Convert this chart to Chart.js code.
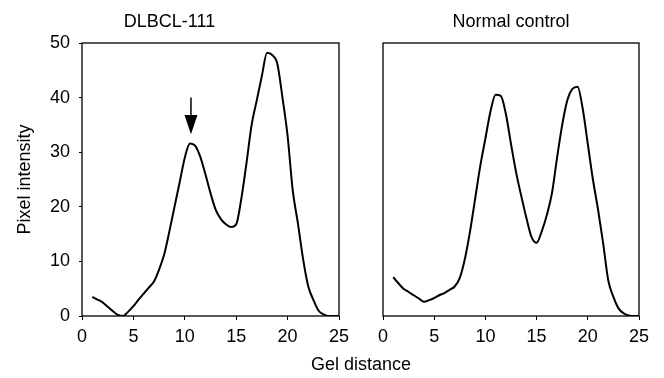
<!DOCTYPE html>
<html><head><meta charset="utf-8">
<script src="https://cdn.jsdelivr.net/npm/chart.js@4.4.0/dist/chart.umd.min.js"></script>
<style>
html,body{margin:0;padding:0;background:#fff;}
body{width:664px;height:378px;position:relative;overflow:hidden;font-family:"Liberation Sans",Arial,sans-serif;}
#w1{position:absolute;left:0;top:0;width:360px;height:378px;}
#w2{position:absolute;left:340px;top:0;width:324px;height:378px;}
#xt{position:absolute;left:261px;width:200px;top:353px;text-align:center;font-size:18px;color:#000;line-height:22px;}
</style></head><body>
<div id="w1"><canvas id="c1"></canvas></div>
<div id="w2"><canvas id="c2"></canvas></div>
<div id="xt">Gel distance</div>
<script>
const panelTitles = ["DLBCL-111", "Normal control"];
const gelDistance = [1,1.5,2,2.5,3,3.5,4,4.5,5,5.5,6,6.5,7,7.5,8,8.5,9,9.5,10,10.5,11,11.5,12,12.5,13,13.5,14,14.5,15,15.5,16,16.5,17,17.5,18,18.5,19,19.5,20,20.5,21,21.5,22,22.5,23,23.5,24,24.5,25];
const dlbcl111 = [3.5,3.0,2.5,1.7,0.9,0.2,0,0.8,1.8,3.0,4.1,5.2,6.3,8.5,11.3,15.5,20,24.5,29,31.6,31.2,29.2,26,22.5,19.5,17.8,16.8,16.3,16.8,21.5,28,35,39.5,44,48.2,47.8,46.2,40,33,23,17,10.5,5.5,3,1,0.3,0,0,0];
const normalControl = [7.1,6.0,5.0,4.4,3.8,3.2,2.6,2.9,3.3,3.8,4.2,4.8,5.4,7.0,10.5,15.5,21.5,27.5,32.5,37.5,40.5,40.3,37,31.5,26.3,22,18,14.5,13.4,15.5,18.5,22.5,29,35,39.5,41.6,42,38,31.5,25,19.5,13.3,6.5,3.5,1.4,0.5,0.1,0,0];
const xTickLabels = [0,5,10,15,20,25];
const yTickLabels = [0,10,20,30,40,50];
const arrowMark = {x:10.6, from:40, headStart:36.8, tip:33.3};

const FONT = {family:"'Liberation Sans', Arial, sans-serif", size:18, weight:'normal'};

const framePlugin = {
  id:'frame',
  afterDatasetsDraw(chart){
    const {ctx, chartArea:a} = chart;
    ctx.save();
    ctx.strokeStyle='#000'; ctx.lineWidth=1.3;
    ctx.strokeRect(a.left, a.top, a.right-a.left, a.bottom-a.top);
    ctx.restore();
  }
};
const arrowPlugin = {
  id:'arrow',
  afterDatasetsDraw(chart){
    const {ctx, scales:{x,y}} = chart;
    const px = x.getPixelForValue(arrowMark.x);
    const y0 = y.getPixelForValue(arrowMark.from);
    const y1 = y.getPixelForValue(arrowMark.headStart);
    const y2 = y.getPixelForValue(arrowMark.tip);
    ctx.save();
    ctx.strokeStyle='#000'; ctx.fillStyle='#000'; ctx.lineWidth=1.5;
    ctx.beginPath(); ctx.moveTo(px,y0); ctx.lineTo(px,y1+1); ctx.stroke();
    ctx.beginPath(); ctx.moveTo(px-6.5,y1); ctx.lineTo(px+6.5,y1); ctx.lineTo(px,y2); ctx.closePath(); ctx.fill();
    ctx.restore();
  }
};

function makeChart(id, title, values, showY, pad){
  const pts = gelDistance.map((g,i)=>({x:g, y:values[i]}));
  return new Chart(document.getElementById(id), {
    type:'line',
    data:{datasets:[{data:pts, borderColor:'#000', borderWidth:2, pointRadius:0, fill:false, cubicInterpolationMode:'monotone'}]},
    options:{
      responsive:true, maintainAspectRatio:false, animation:false, devicePixelRatio:1,
      layout:{padding:pad},
      plugins:{
        legend:{display:false}, tooltip:{enabled:false},
        title:{display:true, text:title, color:'#000', font:FONT, padding:{top:11,bottom:10.4}}
      },
      scales:{
        x:{type:'linear', min:0, max:25,
          afterBuildTicks(s){ s.ticks = xTickLabels.map(v=>({value:v})); },
          ticks:{color:'#000', font:FONT, padding:6, maxRotation:0, autoSkip:false},
          grid:{drawOnChartArea:false, drawTicks:true, tickLength:4, color:'#000', lineWidth:1},
          border:{display:false},
          afterFit(s){ s.height = 62; }
        },
        y:{type:'linear', min:0, max:50, display:showY,
          afterBuildTicks(s){ s.ticks = yTickLabels.map(v=>({value:v})); },
          ticks:{color:'#000', font:FONT, padding:9},
          grid:{drawOnChartArea:false, drawTicks:true, tickLength:3, color:'#000', lineWidth:1},
          border:{display:false},
          title:{display:true, text:'Pixel intensity', color:'#000', font:FONT, padding:{top:14,bottom:0}},
          afterFit(s){ s.width = showY ? 82 : 0; }
        }
      }
    },
    plugins: showY ? [framePlugin, arrowPlugin] : [framePlugin]
  });
}
makeChart('c1', panelTitles[0], dlbcl111, true, {left:0,right:21,top:0,bottom:0});
makeChart('c2', panelTitles[1], normalControl, false, {left:43,right:25,top:0,bottom:0});
</script>
</body></html>
